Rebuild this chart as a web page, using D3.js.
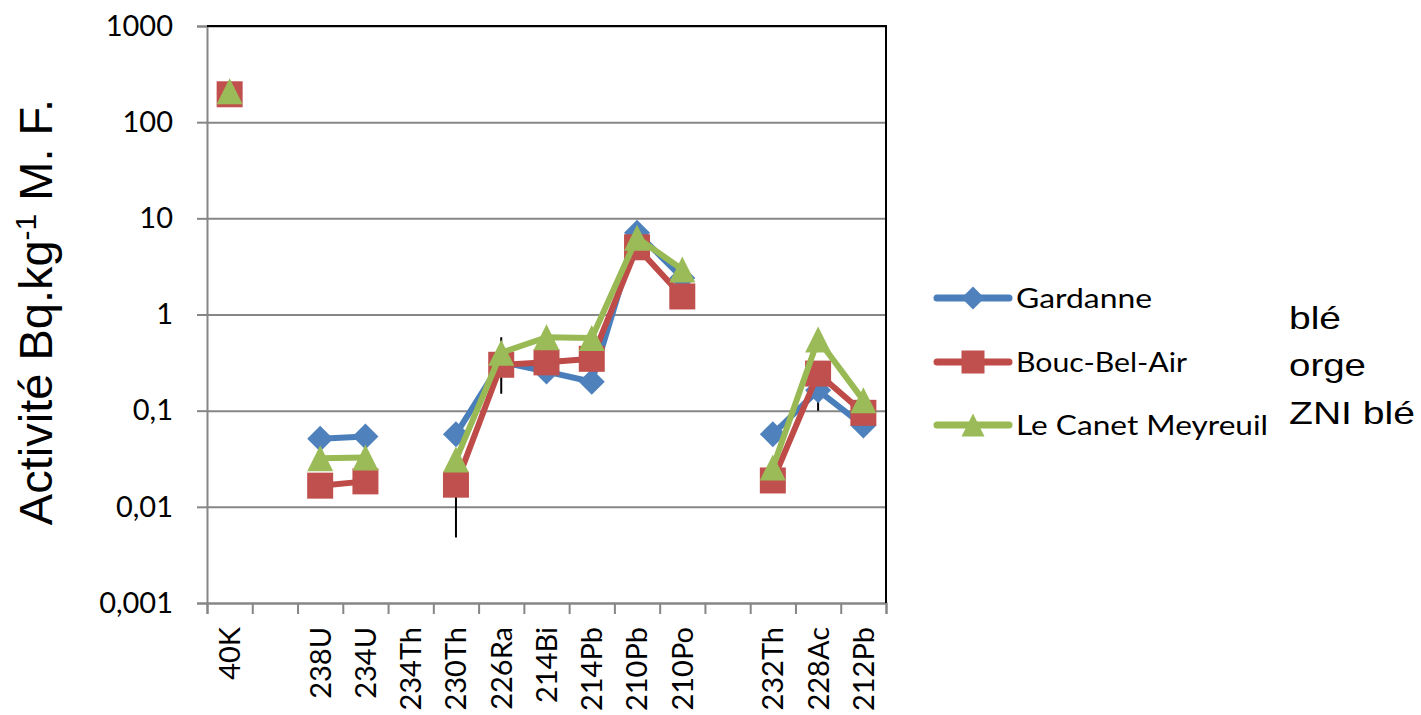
<!DOCTYPE html>
<html>
<head>
<meta charset="utf-8">
<script src="https://cdn.jsdelivr.net/npm/d3@7"></script>
<style>
  body { margin: 0; background: #fff; }
</style>
</head>
<body>
<script>
// categories ("" = empty slot on the axis)
const categories = ["40K", "", "238U", "234U", "234Th", "230Th", "226Ra", "214Bi", "214Pb", "210Pb", "210Po", "", "232Th", "228Ac", "212Pb"];

const gardanne = [200, null, 0.051, 0.054, null, 0.057, 0.32, 0.255, 0.2, 7.1, 2.4, null, 0.057, 0.163, 0.07];
const boucBelAir = [195, null, 0.0166, 0.0184, null, 0.017, 0.3, 0.318, 0.346, 5.0, 1.54, null, 0.0188, 0.243, 0.095];
const canetMeyreuil = [210, null, 0.032, 0.0325, null, 0.031, 0.4, 0.58, 0.57, 6.3, 2.94, null, 0.0257, 0.55, 0.128];

const seriesNames = ["Gardanne", "Bouc-Bel-Air", "Le Canet Meyreuil"];

// error bars (black)
const errCategories = ["230Th", "226Ra", "228Ac"];
const errLow = [0.0048, 0.15, 0.1];
const errHigh = [0.029, 0.58, 0.3];

const yTicks = [0.001, 0.01, 0.1, 1, 10, 100, 1000];
const yTickLabels = ["0,001", "0,01", "0,1", "1", "10", "100", "1000"];

const sideLabels = ["blé", "orge", "ZNI blé"];

const width = 1421;
const height = 715;
const margin = { top: 26, right: 535, bottom: 112, left: 207 };
const innerRight = width - margin.right;
const innerBottom = height - margin.bottom;

const colors = ["#4F81BD", "#C0504D", "#9BBB59"];
const lineColors = ["#4A7EBB", "#BE4B48", "#98B954"];
const gridColor = "#868686";

const svg = d3
  .select("body")
  .append("svg")
  .attr("width", width)
  .attr("height", height)
  .attr("viewBox", [0, 0, width, height]);

const x = d3
  .scaleBand()
  .domain(d3.range(categories.length))
  .range([margin.left, innerRight]);
const xEdge = d3
  .scaleLinear()
  .domain([0, categories.length])
  .range([margin.left, innerRight]);
const y = d3
  .scaleLog()
  .domain([0.001, 1000])
  .range([innerBottom, margin.top]);
const cx = (i) => x(i) + x.bandwidth() / 2;

// gridlines
svg
  .append("g")
  .attr("transform", `translate(${margin.left},0)`)
  .call(d3.axisLeft(y).tickValues(yTicks).tickSize(-(innerRight - margin.left)).tickFormat(""))
  .call((g) => g.select(".domain").remove())
  .call((g) => g.selectAll("line").attr("stroke", gridColor).attr("stroke-width", 2));

// y axis
svg
  .append("g")
  .attr("transform", `translate(${margin.left},0)`)
  .call(
    d3.axisLeft(y)
      .tickValues(yTicks)
      .tickFormat((d, i) => yTickLabels[i])
      .tickSize(10)
      .tickPadding(24),
  )
  .call((g) => g.select(".domain").attr("stroke", gridColor).attr("stroke-width", 2))
  .call((g) => g.selectAll("line").attr("stroke", gridColor).attr("stroke-width", 2))
  .call((g) =>
    g.selectAll("text")
      .attr("fill", "#000")
      .attr("font-family", "Lato, sans-serif")
      .attr("font-size", 29),
  );

// x axis: ticks on category edges
svg
  .append("g")
  .attr("transform", `translate(0,${innerBottom})`)
  .call(d3.axisBottom(xEdge).tickValues(d3.range(categories.length + 1)).tickSize(11).tickFormat(""))
  .call((g) => g.select(".domain").attr("stroke", gridColor).attr("stroke-width", 2))
  .call((g) => g.selectAll("line").attr("stroke", gridColor).attr("stroke-width", 2));

// x labels, rotated
svg
  .append("g")
  .attr("transform", `translate(0,${innerBottom})`)
  .call(d3.axisBottom(x).tickSize(0).tickFormat((i) => categories[i]))
  .call((g) => g.select(".domain").remove())
  .call((g) =>
    g.selectAll("text")
      .attr("transform", "rotate(-90)")
      .attr("x", -24)
      .attr("y", 0)
      .attr("dy", "0.36em")
      .attr("text-anchor", "end")
      .attr("fill", "#000")
      .attr("font-family", "Lato, sans-serif")
      .attr("font-size", 29),
  );

// top and right border of the plot area
svg
  .append("path")
  .attr("fill", "none")
  .attr("stroke", "#000")
  .attr("stroke-width", 2)
  .attr("d", `M${margin.left},${margin.top}H${innerRight}V${innerBottom}`);

// error bars (under the series)
svg
  .append("g")
  .selectAll("line")
  .data(errCategories)
  .join("line")
  .attr("x1", (d) => cx(categories.indexOf(d)))
  .attr("x2", (d) => cx(categories.indexOf(d)))
  .attr("y1", (d, i) => y(errLow[i]))
  .attr("y2", (d, i) => y(errHigh[i]))
  .attr("stroke", "#000")
  .attr("stroke-width", 2);

// marker shapes
const diamond = {
  draw(ctx, size) {
    const r = Math.sqrt(size) / 2;
    ctx.moveTo(0, -r);
    ctx.lineTo(r, 0);
    ctx.lineTo(0, r);
    ctx.lineTo(-r, 0);
    ctx.closePath();
  },
};
const square = {
  draw(ctx, size) {
    const r = Math.sqrt(size) / 2;
    ctx.rect(-r, -r, 2 * r, 2 * r);
  },
};
const triangle = {
  draw(ctx, size) {
    const r = Math.sqrt(size) / 2;
    ctx.moveTo(0, -r);
    ctx.lineTo(r, r);
    ctx.lineTo(-r, r);
    ctx.closePath();
  },
};
const shapes = [diamond, square, triangle];
const markerSize = [26 * 26, 26 * 26, 26 * 26];

const allSeries = [gardanne, boucBelAir, canetMeyreuil];

const line = d3
  .line()
  .defined((d) => d != null)
  .x((d, i) => cx(i))
  .y((d) => y(d));

allSeries.forEach((values, s) => {
  const g = svg.append("g").attr("class", "series" + s);
  g.append("path")
    .attr("fill", "none")
    .attr("stroke", lineColors[s])
    .attr("stroke-width", 6)
    .attr("stroke-linejoin", "round")
    .attr("stroke-linecap", "round")
    .attr("d", line(values));
  g.selectAll("path.mark")
    .data(values.map((v, i) => ({ v, i })).filter((d) => d.v != null))
    .join("path")
    .attr("class", "mark")
    .attr("transform", (d) => `translate(${cx(d.i)},${y(d.v)})`)
    .attr("d", d3.symbol(shapes[s], markerSize[s]))
    .attr("fill", colors[s]);
});

// y axis title
svg
  .append("text")
  .attr("transform", "translate(52,312) rotate(-90)")
  .attr("text-anchor", "middle")
  .attr("font-family", "'Liberation Sans', Arial, sans-serif")
  .attr("font-size", 47)
  .attr("fill", "#000")
  .call((t) => {
    t.append("tspan").text("Activité Bq.kg");
    t.append("tspan").attr("baseline-shift", "super").attr("font-size", 30).text("-1");
    t.append("tspan").text(" M. F.");
  });

// legend
const legendY = [298, 362, 425];
const legendTextWidth = [136, 171, 252];
const legend = svg
  .append("g")
  .selectAll("g")
  .data(seriesNames)
  .join("g")
  .attr("transform", (d, i) => `translate(937,${legendY[i]})`);
legend
  .append("line")
  .attr("x1", 0)
  .attr("x2", 72)
  .attr("stroke", (d, i) => lineColors[i])
  .attr("stroke-width", 7)
  .attr("stroke-linecap", "round");
legend
  .append("path")
  .attr("transform", "translate(36,0)")
  .attr("d", (d, i) => d3.symbol(shapes[i], 23 * 23)())
  .attr("fill", (d, i) => colors[i]);
legend
  .append("text")
  .attr("x", 79)
  .attr("y", 10)
  .attr("font-family", "Lato, sans-serif")
  .attr("font-size", 26)
  .attr("textLength", (d, i) => legendTextWidth[i])
  .attr("lengthAdjust", "spacingAndGlyphs")
  .attr("fill", "#000")
  .text((d) => d);

// side labels
const sideY = [329, 376, 424];
const sideWidth = [52, 77, 126];
svg
  .append("g")
  .selectAll("text")
  .data(sideLabels)
  .join("text")
  .attr("x", 1289)
  .attr("y", (d, i) => sideY[i])
  .attr("font-family", "'Liberation Sans', Arial, sans-serif")
  .attr("font-size", 32)
  .attr("textLength", (d, i) => sideWidth[i])
  .attr("lengthAdjust", "spacingAndGlyphs")
  .attr("fill", "#000")
  .text((d) => d);
</script>
</body>
</html>
